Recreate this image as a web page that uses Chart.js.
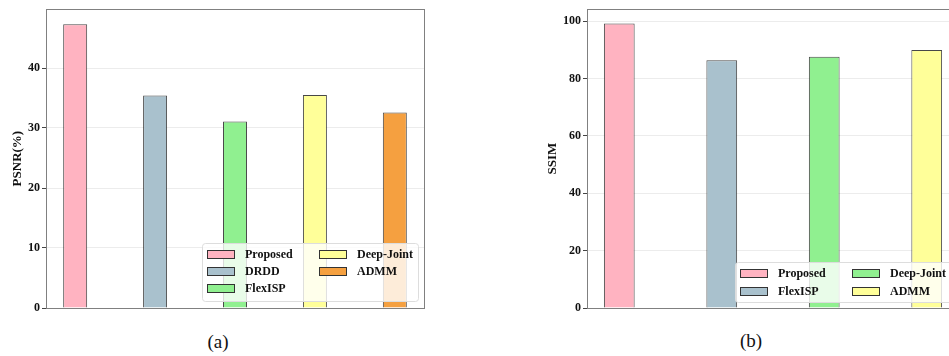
<!DOCTYPE html>
<html>
<head>
<meta charset="utf-8">
<script src="https://cdn.jsdelivr.net/npm/chart.js@4.4.1/dist/chart.umd.min.js"></script>
<style>
  html, body { margin: 0; padding: 0; background: #fff; }
  body { width: 949px; height: 356px; overflow: hidden; position: relative; }
  .box { position: absolute; top: 0; }
  .cap { position: absolute; font-family: "Liberation Serif", serif; font-size: 19px; color: #111; transform: translate(-50%, -50%); }
</style>
</head>
<body>
<div class="box" style="left:0px;width:440px;height:320px"><canvas id="psnrChart" width="440" height="320"></canvas></div>
<div class="box" style="left:530px;width:440px;height:320px"><canvas id="ssimChart" width="440" height="320"></canvas></div>
<div class="cap" style="left:218px;top:342px">(a)</div>
<div class="cap" style="left:751px;top:341px">(b)</div>
<script>
// data
const psnrLabels = ['Proposed', 'DRDD', 'FlexISP', 'Deep-Joint', 'ADMM'];
const psnrValues = [47.3, 35.4, 31.1, 35.5, 32.6];
const psnrColors = ['#FFB3C1', '#A9C1CD', '#90F090', '#FFFF99', '#F5A040'];

const ssimLabels = ['Proposed', 'FlexISP', 'Deep-Joint', 'ADMM'];
const ssimValues = [99.2, 86.4, 87.6, 90.0];
const ssimColors = ['#FFB3C1', '#A9C1CD', '#90F090', '#FFFF99'];

const serif = '"Liberation Serif", "Times New Roman", serif';

// frame around the plot area + legend drawn inside the axes (matplotlib style)
const framePlugin = {
    id: 'frame',
    afterDraw(chart) {
        const a = chart.chartArea;
        const ctx = chart.ctx;
        ctx.save();
        ctx.strokeStyle = '#808080';
        ctx.lineWidth = 1;
        ctx.strokeRect(Math.round(a.left) + 0.5, Math.round(a.top) + 0.5,
                       Math.round(a.right - a.left), Math.round(a.bottom - a.top));
        ctx.restore();

        const lg = chart.options.plugins.boxLegend;
        if (!lg) return;
        const labels = chart.data.labels;
        const colors = chart.data.datasets[0].backgroundColor;
        ctx.save();
        ctx.fillStyle = 'rgba(255,255,255,0.8)';
        ctx.strokeStyle = '#dddddd';
        ctx.beginPath();
        ctx.roundRect(lg.x + 0.5, lg.y + 0.5, lg.w, lg.h, 3);
        ctx.fill();
        ctx.stroke();
        ctx.font = 'bold 12px ' + serif;
        ctx.textBaseline = 'middle';
        labels.forEach((name, i) => {
            const col = Math.floor(i / lg.rows);
            const row = i % lg.rows;
            const sx = lg.x + 5 + col * lg.colW;
            const sy = lg.y + 7 + row * lg.rowH;
            ctx.fillStyle = colors[i];
            ctx.fillRect(sx, sy, 27, 8);
            ctx.strokeStyle = '#333';
            ctx.strokeRect(sx + 0.5, sy + 0.5, 27, 8);
            ctx.fillStyle = '#111';
            ctx.fillText(name, sx + 38, sy + 4.5);
        });
        ctx.restore();
    }
};

function makeChart(id, labels, values, colors, opts) {
    const ctx = document.getElementById(id).getContext('2d');
    return new Chart(ctx, {
        type: 'bar',
        data: {
            labels: labels,
            datasets: [{
                data: values.map((v, i) => ({ x: i, y: v })),
                backgroundColor: colors,
                borderColor: 'rgba(40,40,40,0.85)',
                borderWidth: 1,
                borderSkipped: 'bottom',
                categoryPercentage: 1,
                barPercentage: 0.3
            }]
        },
        options: {
            responsive: false,
            animation: false,
            layout: { padding: opts.padding },
            plugins: {
                legend: { display: false },
                tooltip: { enabled: false },
                boxLegend: opts.legend
            },
            scales: {
                x: {
                    type: 'linear',
                    display: false,
                    offset: false,
                    min: opts.xMin,
                    max: opts.xMax,
                    ticks: { stepSize: 1, includeBounds: false }
                },
                y: {
                    min: 0,
                    max: opts.yMax,
                    afterFit: s => { s.width = opts.axisWidth; },
                    ticks: {
                        stepSize: opts.step,
                        includeBounds: false,
                        color: '#111',
                        padding: 2,
                        font: { family: serif, size: 12, weight: 'bold' }
                    },
                    grid: {
                        color: '#ececec',
                        tickColor: '#444',
                        tickLength: 4
                    },
                    border: { display: false },
                    title: {
                        display: true,
                        text: opts.title,
                        color: '#111',
                        padding: 0,
                        font: { family: serif, size: 13, weight: 'bold' }
                    }
                }
            }
        },
        plugins: [framePlugin]
    });
}

makeChart('psnrChart', psnrLabels, psnrValues, psnrColors, {
    padding: { left: 10, top: 9, right: 16, bottom: 12 },
    axisWidth: 36,
    xMin: -0.365, xMax: 4.365,
    yMax: 49.8, step: 10,
    title: 'PSNR(%)',
    legend: { x: 202, y: 243, w: 216, h: 58, rows: 3, rowH: 17, colW: 112 }
});

makeChart('ssimChart', ssimLabels, ssimValues, ssimColors, {
    padding: { left: 15, top: 9, right: 11, bottom: 12 },
    axisWidth: 42,
    xMin: -0.315, xMax: 3.315,
    yMax: 104.2, step: 20,
    title: 'SSIM',
    legend: { x: 205, y: 262, w: 230, h: 40, rows: 2, rowH: 18, colW: 112 }
});
</script>
</body>
</html>
